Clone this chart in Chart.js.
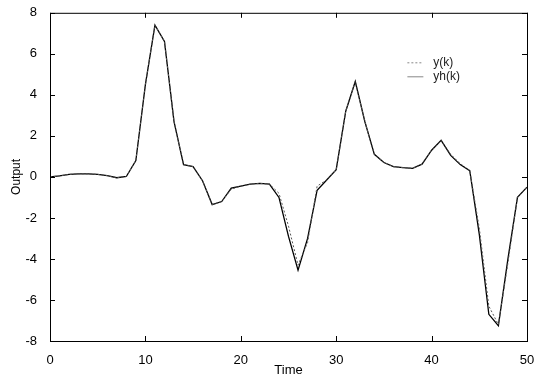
<!DOCTYPE html>
<html>
<head>
<meta charset="utf-8">
<script src="https://cdn.jsdelivr.net/npm/chart.js@4/dist/chart.umd.min.js"></script>
<style>
  html, body { margin: 0; padding: 0; background: #fff; }
  #wrap { width: 540px; height: 379px; }
</style>
</head>
<body>
<div id="wrap"><canvas id="myChart" width="540" height="379"></canvas></div>
<script>
// sample index k
const time = [0, 1, 2, 3, 4, 5, 6, 7, 8, 9, 10, 11, 12, 13, 14, 15, 16, 17, 18, 19, 20,
    21, 22, 23, 24, 25, 26, 27, 28, 29, 30, 31, 32, 33, 34, 35, 36, 37, 38, 39, 40,
    41, 42, 43, 44, 45, 46, 47, 48, 49, 50];

// plant output y(k) (dotted)
const yk = [0.00, 0.05, 0.12, 0.15, 0.15, 0.12, 0.06, -0.04, 0.02, 0.80, 4.50,
    7.40, 6.60, 2.70, 0.60, 0.50, -0.20, -1.35, -1.20, -0.60, -0.45,
    -0.35, -0.32, -0.35, -0.80, -2.40, -4.30, -3.20, -0.45, -0.15, 0.35,
    3.20, 4.65, 2.70, 1.10, 0.70, 0.50, 0.45, 0.42, 0.62, 1.30,
    1.78, 1.10, 0.65, 0.30, -2.50, -6.30, -7.20, -4.20, -1.00, -0.50];

// model output yh(k) (solid)
const yhk = [0.00, 0.05, 0.12, 0.15, 0.15, 0.12, 0.06, -0.04, 0.02, 0.80, 4.50,
    7.40, 6.60, 2.70, 0.60, 0.50, -0.20, -1.35, -1.20, -0.55, -0.45,
    -0.35, -0.32, -0.35, -1.00, -2.90, -4.55, -3.00, -0.65, -0.15, 0.35,
    3.20, 4.65, 2.70, 1.10, 0.70, 0.50, 0.45, 0.42, 0.62, 1.30,
    1.78, 1.05, 0.60, 0.30, -2.80, -6.70, -7.25, -4.00, -1.00, -0.50];

const yTicks = [-8, -6, -4, -2, 0, 2, 4, 6, 8];
const xTicks = [0, 10, 20, 30, 40, 50];
const legendNames = ['y(k)', 'yh(k)'];

const FONT = "'Liberation Sans', Arial, sans-serif";

function toPoints(xs, ys) {
    return xs.map((x, i) => ({ x: x, y: ys[i] }));
}

// box around the plot with inward ticks, like the old matlab figures
const boxPlugin = {
    id: 'boxTicks',
    afterDraw(chart) {
        const c = chart.ctx;
        const a = chart.chartArea;
        const xs = chart.scales.x;
        const ys = chart.scales.y;
        c.save();
        c.strokeStyle = '#000';
        c.lineWidth = 1;
        c.strokeRect(a.left + 0.5, a.top + 0.5, a.right - a.left, a.bottom - a.top);
        c.beginPath();
        xTicks.forEach(v => {
            const p = Math.round(xs.getPixelForValue(v)) + 0.5;
            c.moveTo(p, a.bottom); c.lineTo(p, a.bottom - 5);
            c.moveTo(p, a.top); c.lineTo(p, a.top + 5);
        });
        yTicks.forEach(v => {
            const p = Math.round(ys.getPixelForValue(v)) + 0.5;
            c.moveTo(a.left, p); c.lineTo(a.left + 5, p);
            c.moveTo(a.right, p); c.lineTo(a.right - 5, p);
        });
        c.stroke();

        // legend, top right inside the axes
        const lx = a.left + (a.right - a.left) * 0.745;
        const ly = a.top + 50;
        c.font = '12px ' + FONT;
        c.textBaseline = 'middle';
        c.fillStyle = '#222';
        chart.data.datasets.forEach((ds, i) => {
            const yy = ly + i * 14;
            c.strokeStyle = '#888';
            c.lineWidth = 1;
            c.setLineDash(ds.borderDash || []);
            c.beginPath();
            c.moveTo(lx + 2, yy); c.lineTo(lx + 18, yy);
            c.stroke();
            c.setLineDash([]);
            c.fillText(legendNames[i], lx + 28, yy);
        });
        c.restore();
    }
};

const ctx = document.getElementById('myChart').getContext('2d');
const myChart = new Chart(ctx, {
    type: 'line',
    data: {
        datasets: [
            {
                label: legendNames[0],
                data: toPoints(time, yk),
                borderColor: '#555',
                borderWidth: 1,
                borderDash: [2, 2],
                pointRadius: 0,
                fill: false,
                tension: 0
            },
            {
                label: legendNames[1],
                data: toPoints(time, yhk),
                borderColor: '#000',
                borderWidth: 1.3,
                pointRadius: 0,
                fill: false,
                tension: 0
            }
        ]
    },
    options: {
        responsive: false,
        animation: false,
        layout: { padding: { left: 0, top: 11, right: 13, bottom: 0 } },
        plugins: {
            legend: { display: false },
            tooltip: { enabled: false }
        },
        scales: {
            x: {
                type: 'linear',
                min: 0,
                max: 50,
                afterFit(scale) { scale.height = 38; },
                afterBuildTicks(scale) { scale.ticks = xTicks.map(v => ({ value: v })); },
                grid: { display: false },
                border: { display: false },
                ticks: { color: '#000', padding: 4, font: { family: FONT, size: 13 } },
                title: { display: true, text: 'Time', color: '#000', padding: { top: 0, bottom: 1 }, font: { family: FONT, size: 13 } }
            },
            y: {
                min: -8,
                max: 8,
                afterFit(scale) { scale.width = 50; },
                afterBuildTicks(scale) { scale.ticks = yTicks.map(v => ({ value: v })); },
                grid: { display: false },
                border: { display: false },
                ticks: { color: '#000', padding: 5, font: { family: FONT, size: 13 } },
                title: { display: true, text: 'Output', color: '#000', padding: { top: 9, bottom: 0 }, font: { family: FONT, size: 12 } }
            }
        }
    },
    plugins: [boxPlugin]
});
</script>
</body>
</html>
